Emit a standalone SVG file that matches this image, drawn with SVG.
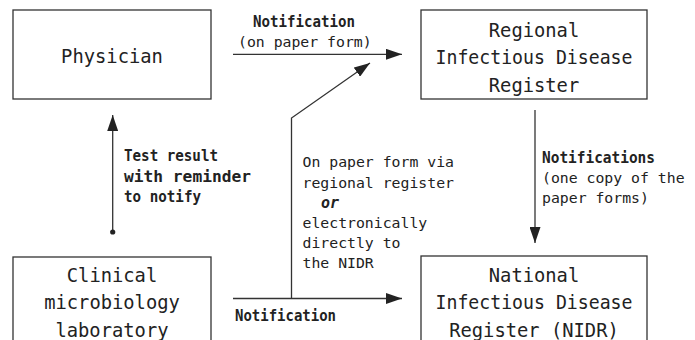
<svg xmlns="http://www.w3.org/2000/svg" width="695" height="340" viewBox="0 0 695 340">
<style>
.box{fill:#fff;stroke:#333;stroke-width:1.3}
.big{font-family:"DejaVu Sans Mono","Liberation Mono",monospace;font-size:18.8px;fill:#222;text-anchor:middle}
.sm{font-family:"DejaVu Sans Mono","Liberation Mono",monospace;font-size:14.8px;fill:#222}
.bd{font-family:"DejaVu Sans Mono","Liberation Mono",monospace;font-size:16.5px;font-weight:bold;fill:#222}
.ln{fill:none;stroke:#333;stroke-width:1.3}
</style>
<defs>
<marker id="ah" viewBox="0 0 16 11" refX="16" refY="5.5" markerWidth="16" markerHeight="11" markerUnits="userSpaceOnUse" orient="auto">
<path d="M0,0 L16,5.5 L0,11 z" fill="#222"/>
</marker>
</defs>
<g id="physician">
<rect class="box" x="13" y="10" width="198" height="89"/>
<text class="big" x="112" y="63">Physician</text>
</g>
<g id="regional">
<rect class="box" x="421" y="10" width="226" height="89"/>
<text class="big" x="534" y="37">Regional</text>
<text class="big" x="534" y="64" textLength="197" lengthAdjust="spacingAndGlyphs">Infectious Disease</text>
<text class="big" x="534" y="92">Register</text>
</g>
<g id="clinical">
<rect class="box" x="13" y="257" width="198" height="100"/>
<text class="big" x="112" y="282">Clinical</text>
<text class="big" x="112" y="309">microbiology</text>
<text class="big" x="112" y="337">laboratory</text>
</g>
<g id="nidr">
<rect class="box" x="421" y="256" width="226" height="100"/>
<text class="big" x="534" y="282">National</text>
<text class="big" x="534" y="309" textLength="197" lengthAdjust="spacingAndGlyphs">Infectious Disease</text>
<text class="big" x="534" y="337">Register (NIDR)</text>
</g>
<g id="connectors">
<line class="ln" x1="233" y1="54.3" x2="402" y2="54.3" marker-end="url(#ah)"/>
<polyline class="ln" points="291.5,298.5 291.5,118 370,63" marker-end="url(#ah)"/>
<line class="ln" x1="233" y1="298.5" x2="402" y2="298.5" marker-end="url(#ah)"/>
<line class="ln" x1="112.7" y1="232" x2="112.7" y2="115" marker-end="url(#ah)"/>
<circle cx="112.7" cy="232" r="2.6" fill="#222"/>
<line class="ln" x1="535" y1="110" x2="535" y2="243" marker-end="url(#ah)"/>
</g>
<g id="labels">
<text class="bd" x="253" y="27" textLength="102" lengthAdjust="spacingAndGlyphs">Notification</text>
<text class="sm" x="238" y="47">(on paper form)</text>
<text class="bd" x="124" y="161" textLength="94" lengthAdjust="spacingAndGlyphs">Test result</text>
<text class="bd" x="124" y="182" textLength="127" lengthAdjust="spacingAndGlyphs">with reminder</text>
<text class="bd" x="124" y="202" textLength="77" lengthAdjust="spacingAndGlyphs">to notify</text>
<text class="sm" x="302.5" y="167">On paper form via</text>
<text class="sm" x="302.5" y="187.5">regional register</text>
<text class="bd" x="321" y="208" font-style="italic" textLength="18" lengthAdjust="spacingAndGlyphs">or</text>
<text class="sm" x="302.5" y="227.5">electronically</text>
<text class="sm" x="302.5" y="247.5">directly to</text>
<text class="sm" x="302.5" y="268">the NIDR</text>
<text class="bd" x="542" y="163" textLength="113" lengthAdjust="spacingAndGlyphs">Notifications</text>
<text class="sm" x="542" y="183">(one copy of the</text>
<text class="sm" x="542" y="203">paper forms)</text>
<text class="bd" x="235" y="321" textLength="101" lengthAdjust="spacingAndGlyphs">Notification</text>
</g>
</svg>
